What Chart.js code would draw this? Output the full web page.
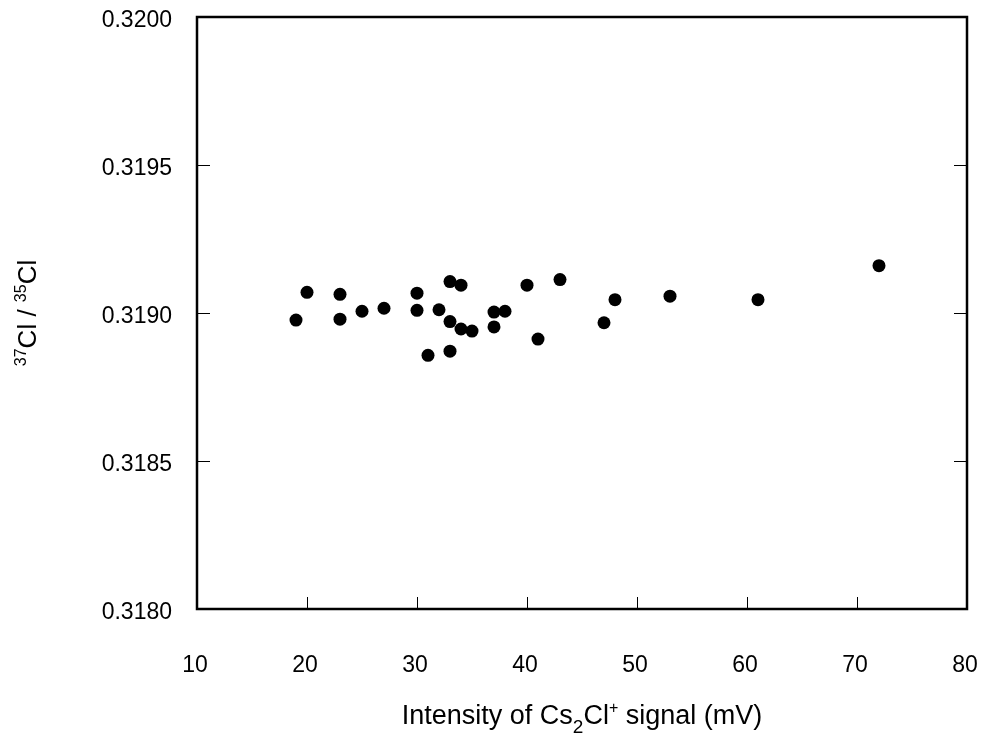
<!DOCTYPE html>
<html>
<head>
<meta charset="utf-8">
<script src="https://cdn.jsdelivr.net/npm/chart.js@4"></script>
<style>
  html, body { margin: 0; padding: 0; background: #fff; }
  #wrap { width: 986px; height: 738px; }
</style>
</head>
<body>
<div id="wrap"><canvas id="c" width="986" height="738"></canvas></div>
<script>
const intensity = [19, 20, 23, 23, 25, 27, 30, 30, 31, 32, 33, 33, 33, 34, 34, 35, 37, 37, 38, 40, 41, 43, 47, 48, 53, 61, 72];
const ratio = [0.318976, 0.319070, 0.319063, 0.318979, 0.319006, 0.319016, 0.319067, 0.319009, 0.318857, 0.319011,
               0.319106, 0.318971, 0.318871, 0.319094, 0.318946, 0.318939, 0.319003, 0.318953, 0.319006, 0.319094,
               0.318912, 0.319113, 0.318967, 0.319045, 0.319057, 0.319045, 0.319160];

const xTicks = [10, 20, 30, 40, 50, 60, 70, 80];
const yTicks = [0.3180, 0.3185, 0.3190, 0.3195, 0.3200];

const FONT = '"Liberation Sans", Arial, sans-serif';

// Box, inward ticks and the axis titles (they need sub/superscripts)
const framePlugin = {
    id: 'frame',
    afterDraw(chart) {
        const { ctx, chartArea: { left, right, top, bottom }, scales: { x, y } } = chart;
        ctx.save();
        ctx.strokeStyle = '#000';
        ctx.lineWidth = 1;
        ctx.beginPath();
        xTicks.slice(1, -1).forEach(v => {
            const px = Math.round(x.getPixelForValue(v)) + 0.5;
            ctx.moveTo(px, bottom);
            ctx.lineTo(px, bottom - 12);
        });
        yTicks.slice(1, -1).forEach(v => {
            const py = Math.round(y.getPixelForValue(v)) + 0.5;
            ctx.moveTo(left, py);
            ctx.lineTo(left + 13, py);
            ctx.moveTo(right, py);
            ctx.lineTo(right - 13, py);
        });
        ctx.stroke();

        ctx.lineWidth = 2.5;
        ctx.strokeRect(left, top, right - left, bottom - top);

        ctx.fillStyle = '#000';
        ctx.textBaseline = 'alphabetic';
        ctx.textAlign = 'left';

        // x title: Intensity of Cs2Cl+ signal (mV)
        const big = `27px ${FONT}`, small = `16px ${FONT}`;
        const parts = [
            { t: 'Intensity of Cs', f: big, dy: 0 },
            { t: '2', f: `19px ${FONT}`, dy: 9 },
            { t: 'Cl', f: big, dy: 0 },
            { t: '+', f: small, dy: -11 },
            { t: ' signal (mV)', f: big, dy: 0 },
        ];
        let total = 0;
        parts.forEach(p => { ctx.font = p.f; p.w = ctx.measureText(p.t).width; total += p.w; });
        let cx = (left + right) / 2 - total / 2;
        const base = 724;
        parts.forEach(p => { ctx.font = p.f; ctx.fillText(p.t, cx, base + p.dy); cx += p.w; });

        // y title: 37Cl / 35Cl
        const yparts = [
            { t: '37', f: small, dy: -10 },
            { t: 'Cl / ', f: `26px ${FONT}`, dy: 0 },
            { t: '35', f: small, dy: -10 },
            { t: 'Cl', f: `26px ${FONT}`, dy: 0 },
        ];
        total = 0;
        yparts.forEach(p => { ctx.font = p.f; p.w = ctx.measureText(p.t).width; total += p.w; });
        ctx.translate(36, (top + bottom) / 2);
        ctx.rotate(-Math.PI / 2);
        cx = -total / 2;
        yparts.forEach(p => { ctx.font = p.f; ctx.fillText(p.t, cx, p.dy); cx += p.w; });
        ctx.restore();
    },
};

const noOverflow = s => {
    s.paddingTop = 0;
    s.paddingBottom = 0;
    s.paddingLeft = 0;
    s.paddingRight = 0;
};

new Chart(document.getElementById('c'), {
    type: 'scatter',
    plugins: [framePlugin],
    data: {
        datasets: [{
            data: intensity.map((v, i) => ({ x: v, y: ratio[i] })),
            backgroundColor: '#000',
            borderWidth: 0,
            pointRadius: 6.5,
            pointHoverRadius: 6.5,
        }],
    },
    options: {
        responsive: false,
        devicePixelRatio: 1,
        animation: false,
        layout: { padding: { top: 17, right: 19, left: 0, bottom: 0 } },
        plugins: { legend: { display: false }, tooltip: { enabled: false } },
        scales: {
            x: {
                type: 'linear',
                min: 10,
                max: 80,
                afterBuildTicks: s => { s.ticks = xTicks.map(v => ({ value: v })); },
                afterFit: s => { s.height = 129; noOverflow(s); },
                grid: { display: false, drawTicks: false },
                border: { display: false },
                ticks: {
                    color: '#000',
                    font: { family: FONT, size: 23 },
                    padding: 43,
                    labelOffset: -2,
                    maxRotation: 0,
                    autoSkip: false,
                },
            },
            y: {
                type: 'linear',
                min: 0.318,
                max: 0.320,
                afterBuildTicks: s => { s.ticks = yTicks.map(v => ({ value: v })); },
                afterFit: s => { s.width = 197; noOverflow(s); },
                grid: { display: false, drawTicks: false },
                border: { display: false },
                ticks: {
                    color: '#000',
                    font: { family: FONT, size: 23 },
                    padding: 25,
                    labelOffset: 4,
                    autoSkip: false,
                    callback: v => v.toFixed(4),
                },
            },
        },
    },
});
</script>
</body>
</html>
